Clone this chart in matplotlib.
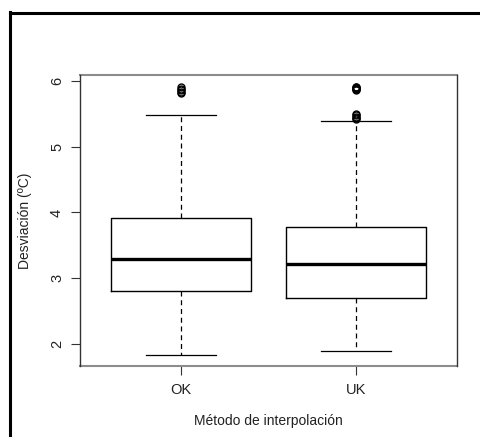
import matplotlib
matplotlib.use('Agg')
import matplotlib.pyplot as plt
from matplotlib.lines import Line2D

plt.rcParams['font.family'] = ['Liberation Sans', 'DejaVu Sans']

# Valeurs (estimées)
metodos = ['OK', 'UK']
q1 = [2.81, 2.70]
medianas = [3.29, 3.21]
q3 = [3.91, 3.78]
bigote_inf = [1.83, 1.89]
bigote_sup = [5.48, 5.40]
atipicos = [[5.82, 5.84, 5.86, 5.89, 5.92],
            [5.42, 5.44, 5.46, 5.48, 5.50, 5.87, 5.88, 5.89, 5.90, 5.91, 5.92]]

W, H = 481, 437
fig = plt.figure(figsize=(W/100, H/100), dpi=100)
fig.patch.set_facecolor('white')

# marco exterior (solo izquierda y arriba visibles)
fig.add_artist(Line2D([9.5/W, 9.5/W], [0, 1 - 12/H], color='black', lw=2.2,
                      transform=fig.transFigure, solid_capstyle='projecting'))
fig.add_artist(Line2D([9.5/W, 1], [1 - 13/H, 1 - 13/H], color='black', lw=2.2,
                      transform=fig.transFigure, solid_capstyle='projecting'))

x0, x1, y0, y1 = 80, 457, 75, 366
ax = fig.add_axes([x0/W, 1 - y1/H, (x1 - x0)/W, (y1 - y0)/H])

stats = []
for i, m in enumerate(metodos):
    stats.append(dict(label=m, q1=q1[i], med=medianas[i], q3=q3[i],
                      whislo=bigote_inf[i], whishi=bigote_sup[i],
                      fliers=atipicos[i]))

ax.bxp(stats, positions=[1, 2], widths=0.8, showfliers=True,
       boxprops=dict(color='black', lw=1.0),
       medianprops=dict(color='black', lw=2.4, solid_capstyle='butt'),
       whiskerprops=dict(color='black', lw=0.9, linestyle=(0, (4, 3))),
       capprops=dict(color='black', lw=0.9),
       capwidths=0.4,
       flierprops=dict(marker='o', markerfacecolor='none',
                       markeredgecolor='black', markersize=5, markeredgewidth=1.0))

ax.set_xlim(0.42, 2.58)
ax.set_ylim(1.66, 6.096)
ax.set_yticks([2, 3, 4, 5, 6])
ax.set_yticklabels(['2', '3', '4', '5', '6'], rotation=90, va='center')
ax.set_xticks([1, 2])
ax.set_xticklabels(metodos)
ax.tick_params(axis='both', length=6.5, width=0.8, color='#333333',
               labelsize=10.5, labelcolor='#222222', pad=5)
ax.tick_params(axis='x', pad=6)

for s in ['top', 'bottom']:
    ax.spines[s].set_color('#8c8c8c')
    ax.spines[s].set_linewidth(1.5)
for s in ['left', 'right']:
    ax.spines[s].set_color('#333333')
    ax.spines[s].set_linewidth(1.0)
    ax.spines[s].set_zorder(3)

ax.set_ylabel('Desviación (ºC)', fontsize=10, color='#222222', labelpad=13)
ax.set_xlabel('Método de interpolación', fontsize=10, color='#222222', labelpad=12)

fig.savefig('out.png', dpi=100)
